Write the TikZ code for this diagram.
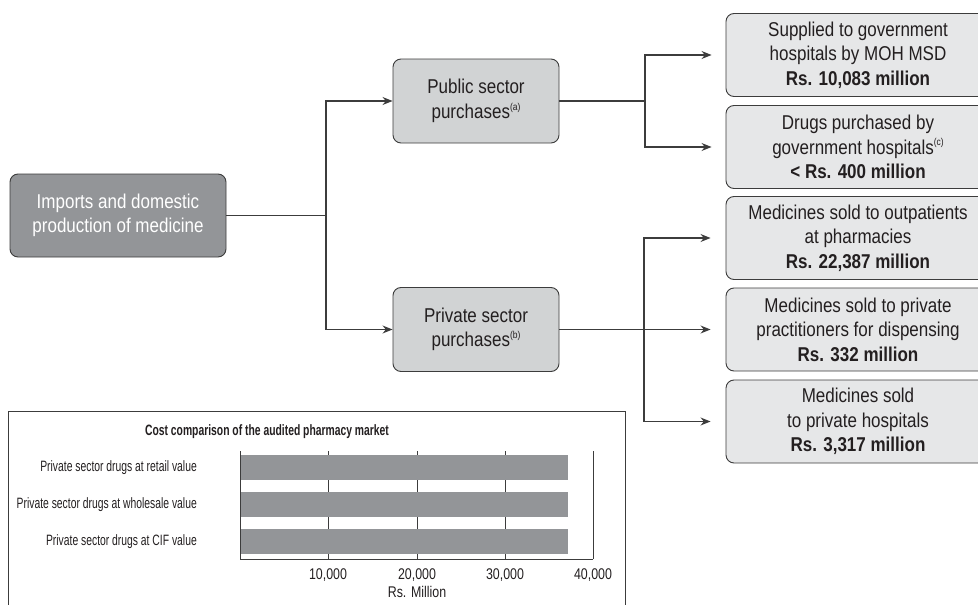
\documentclass[tikz,border=0pt]{standalone}
\usepackage{fontspec}
\setmainfont{Liberation Sans}[FakeStretch=0.85]
\newfontfamily\narrowfont{Liberation Sans}[FakeStretch=0.69]
\newfontfamily\tickfont{Liberation Sans}[FakeStretch=0.8]
\usetikzlibrary{arrows.meta}
\definecolor{darkfill}{HTML}{939598}
\definecolor{midfill}{HTML}{D1D3D4}
\definecolor{lightfill}{HTML}{E6E7E8}
\definecolor{edgecol}{HTML}{3C3C3C}
\definecolor{txt}{HTML}{231F20}
\newcommand{\supx}[1]{\raisebox{0.42em}{\fontsize{10}{10}\selectfont(#1)}}
\begin{document}
\begin{tikzpicture}[x=1pt,y=-1pt,
  box/.style={draw=edgecol, line width=0.9pt, rounded corners=8pt, align=center, inner sep=0pt, text=txt, font=\fontsize{20}{24.5}\selectfont},
  rootbox/.style={box, fill=darkfill, text=white, minimum width=216, minimum height=83},
  midbox/.style={box, fill=midfill, minimum width=166, minimum height=84},
  outbox/.style={box, fill=lightfill, minimum width=264, minimum height=83},
  conn/.style={draw=edgecol, line width=1.1pt},
  arr/.style={conn, -{Stealth[length=10pt,width=8pt]}},
  barlbl/.style={font=\narrowfont\fontsize{15}{16}\selectfont, inner sep=0pt, text=txt},
  ticklbl/.style={font=\tickfont\fontsize{15.5}{17}\selectfont, inner sep=0pt, text=txt},
  titlelbl/.style={font=\narrowfont\bfseries\fontsize{15}{16}\selectfont, inner sep=0pt, text=txt},
]
\useasboundingbox (0,0) rectangle (978,605);
\clip (0,0) rectangle (978,605);

% main nodes
\node[rootbox] (root) at (118,215.5) {Imports and domestic\\production of medicine};
\node[midbox] (pub) at (476,101) {Public sector\\purchases\supx{a}};
\node[midbox] (priv) at (476,329.5) {Private sector\\purchases\supx{b}};

\node[outbox] (r1) at (858,55) {Supplied to government\\hospitals by MOH MSD\\\textbf{Rs. 10,083 million}};
\node[outbox] (r2) at (858,147) {Drugs purchased by\\government hospitals\supx{c}\\\textbf{< Rs. 400 million}};
\node[outbox] (r3) at (858,238) {Medicines sold to outpatients\\at pharmacies\\\textbf{Rs. 22,387 million}};
\node[outbox] (r4) at (858,329.5) {Medicines sold to private\\practitioners for dispensing\\\textbf{Rs. 332 million}};
\node[outbox] (r5) at (858,421.5) {Medicines sold\\to private hospitals\\\textbf{Rs. 3,317 million}};

% junctions
\coordinate (j1) at (326,215.5);
\coordinate (j2) at (645,101);
\coordinate (j3) at (644,329.5);

\draw[conn] (root.east) -- (j1);
\draw[arr] (j1) |- (pub.west);
\draw[arr] (j1) |- (priv.west);

\draw[conn] (pub.east) -- (j2);
\draw[arr, shorten >=14pt] (j2) |- (r1.west);
\draw[arr, shorten >=14pt] (j2) |- (r2.west);

\draw[arr, shorten >=15pt] (priv.east) -- (r4.west);
\draw[arr, shorten >=15pt] (j3) |- (r3.west);
\draw[arr, shorten >=15pt] (j3) |- (r5.west);

% chart frame
\draw[draw=edgecol, line width=0.9pt] (8,411) rectangle (625,640);
\node[titlelbl] (ctitle) at (267,432) {Cost comparison of the audited pharmacy market};

% gridlines
\foreach \gx in {328,417,505,593} {
  \draw[edgecol, line width=0.9pt] (\gx,451) -- (\gx,559);
}
% bars
\fill[darkfill] (241,455) rectangle (568,480);
\fill[darkfill] (241,492) rectangle (568,517);
\fill[darkfill] (241,529) rectangle (568,554);
% axes
\draw[edgecol, line width=0.9pt] (240,451) -- (240,559) -- (593,559);

\node[barlbl, anchor=east] (b1) at (197,467.5) {Private sector drugs at retail value};
\node[barlbl, anchor=east] (b2) at (197,504.5) {Private sector drugs at wholesale value};
\node[barlbl, anchor=east] (b3) at (197,541.5) {Private sector drugs at CIF value};

\node[ticklbl] (t1) at (328,575) {10,000};
\node[ticklbl] (t2) at (417,575) {20,000};
\node[ticklbl] (t3) at (505,575) {30,000};
\node[ticklbl] (t4) at (593,575) {40,000};
\node[ticklbl] (xl) at (417,592) {Rs. Million};
\end{tikzpicture}
\end{document}
